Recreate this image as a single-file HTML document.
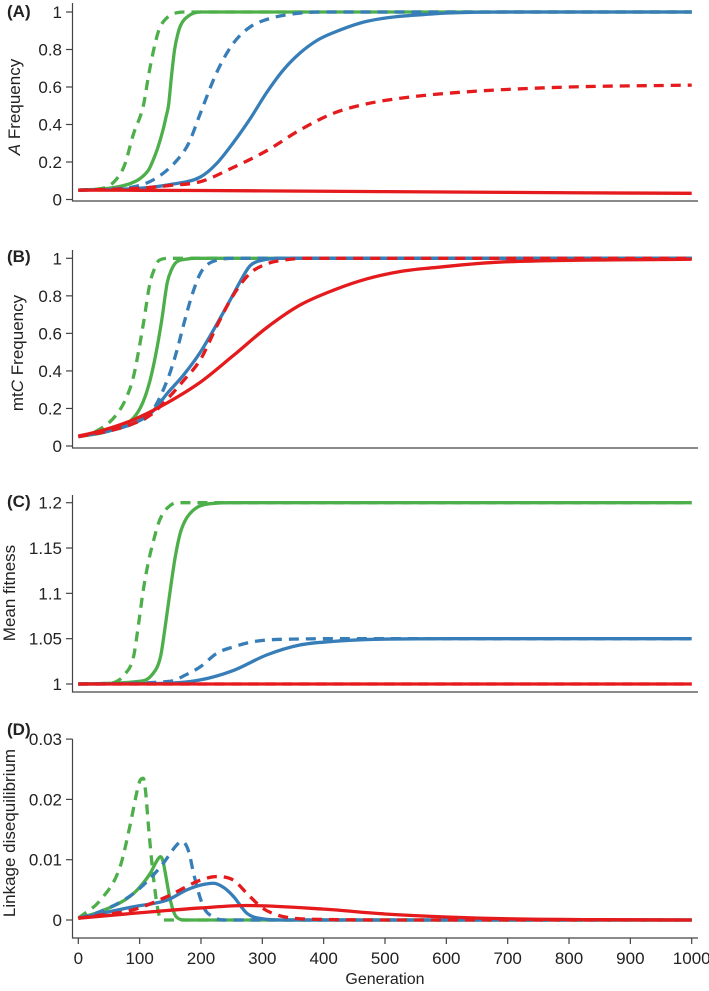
<!DOCTYPE html>
<html><head><meta charset="utf-8"><style>
body{margin:0;background:#fff}
svg{display:block;font-family:"Liberation Sans",sans-serif}
</style></head><body>
<svg id="chart" width="709" height="991" viewBox="0 0 709 991" xmlns="http://www.w3.org/2000/svg"></svg>
<script>
// ---- data (generation, value) ----
const aGreenDashG=[0,40,60,75,90,106,115,123,131,139,155,175,1000];
const aGreenDashV=[.05,.06,.1,.18,.35,.5,.67,.8,.9,.95,.99,1,1];
const aGreenSolidG=[0,50,80,100,115,122,130,138,143,147,152,157,162,167,180,200,1000];
const aGreenSolidV=[.05,.06,.08,.11,.16,.21,.28,.37,.44,.5,.66,.8,.88,.93,.98,1,1];
const aBlueDashG=[0,50,100,130,161,180,199,226,252,280,307,350,400,1000];
const aBlueDashV=[.05,.055,.075,.12,.21,.3,.46,.68,.83,.92,.96,.99,1,1];
const aBlueSolidG=[0,100,150,199,225,252,280,307,334,361,390,416,470,579,700,1000];
const aBlueSolidV=[.05,.06,.08,.12,.19,.3,.43,.57,.69,.78,.85,.89,.95,.99,1,1];
const aRedDashG=[0,100,150,199,252,307,361,416,470,525,579,660,800,1000];
const aRedDashV=[.05,.06,.075,.095,.17,.26,.37,.46,.51,.54,.56,.58,.6,.61];
const aRedSolidG=[0,200,400,600,800,1000];
const aRedSolidV=[.05,.048,.044,.04,.036,.033];

const bGreenDashG=[0,30,63,80,90,98,106,117,125,132,150,1000];
const bGreenDashV=[.05,.08,.17,.27,.37,.5,.65,.87,.95,.99,1,1];
const bGreenSolidG=[0,50,90,105,117,127,136,145,152,160,175,190,1000];
const bGreenSolidV=[.05,.08,.15,.23,.35,.5,.67,.87,.94,.98,.995,1,1];
const bBlueDashG=[0,50,90,117,145,160,172,185,199,212,226,250,1000];
const bBlueDashV=[.05,.08,.12,.17,.35,.5,.65,.8,.92,.97,.99,1,1];
const bBlueSolidG=[0,50,90,120,145,172,199,226,253,268,280,300,330,1000];
const bBlueSolidV=[.05,.08,.12,.18,.28,.38,.5,.65,.81,.9,.96,.99,1,1];
const bRedDashG=[0,50,90,120,145,172,199,226,252,280,307,334,370,1000];
const bRedDashV=[.05,.08,.12,.17,.25,.35,.46,.64,.8,.92,.97,.99,1,1];
const bRedSolidG=[0,36,90,145,199,252,307,361,416,470,525,579,688,1000];
const bRedSolidV=[.053,.08,.14,.23,.34,.48,.63,.75,.83,.89,.93,.95,.98,.995];

const cGreenDashG=[0,50,60,75,90,98,106,115,123,131,139,150,160,1000];
const cGreenDashV=[1,1.001,1.002,1.01,1.03,1.065,1.104,1.137,1.159,1.178,1.189,1.197,1.2,1.2];
const cGreenSolidG=[0,100,120,134,142,150,158,166,174,182,194,206,250,1000];
const cGreenSolidV=[1,1.003,1.01,1.03,1.065,1.104,1.14,1.166,1.18,1.188,1.195,1.198,1.2,1.2];
const cBlueDashG=[0,150,175,199,226,253,280,307,350,416,1000];
const cBlueDashV=[1,1.003,1.01,1.019,1.034,1.041,1.046,1.0485,1.0495,1.05,1.05];
const cBlueSolidG=[0,150,199,253,307,361,416,470,600,1000];
const cBlueSolidV=[1,1.001,1.0045,1.015,1.032,1.043,1.047,1.049,1.05,1.05];
const cRedDashG=[0,1000];
const cRedDashV=[1,1];
const cRedSolidG=[0,1000];
const cRedSolidV=[1,1];

const dGreenDashG=[0,36,68,85,95,101,106,110,114,123,131,139,160,1000];
const dGreenDashV=[.0003,.0033,.0088,.016,.021,.0232,.0235,.021,.016,.0066,.0011,0,0,0];
const dGreenSolidG=[0,36,90,117,128,134,138,142,150,160,175,1000];
const dGreenSolidV=[.0003,.0014,.0044,.0077,.0098,.0105,.0098,.0077,.0033,.0005,0,0];
const dBlueDashG=[0,36,90,134,161,168,174,181,188,204,220,240,1000];
const dBlueDashV=[.0003,.0014,.0044,.0088,.0125,.013,.0127,.011,.0077,.0022,.0005,0,0];
const dBlueSolidG=[0,90,145,177,200,220,237,253,275,300,330,1000];
const dBlueSolidV=[.0003,.0022,.0033,.005,.0058,.0061,.0054,.0039,.0011,.0002,0,0];
const dRedDashG=[0,36,90,145,199,226,253,275,300,325,350,400,500,1000];
const dRedDashV=[.0003,.0008,.0017,.0039,.0066,.0072,.0066,.0044,.002,.0008,.0003,.0001,0,0];
const dRedSolidG=[0,100,200,275,400,500,600,700,850,1000];
const dRedSolidV=[.0003,.0012,.002,.0024,.0018,.001,.0005,.0002,.00005,0];

const aTicks=[0,.2,.4,.6,.8,1];
const aTickLabels=["0","0.2","0.4","0.6","0.8","1"];
const cTicks=[1,1.05,1.1,1.15,1.2];
const cTickLabels=["1","1.05","1.1","1.15","1.2"];
const dTicks=[0,.01,.02,.03];
const dTickLabels=["0","0.01","0.02","0.03"];
const xTicks=[0,100,200,300,400,500,600,700,800,900,1000];

// ---- rendering ----
const NS="http://www.w3.org/2000/svg";
const svg=document.getElementById('chart');
function mk(tag,attrs,parent){const e=document.createElementNS(NS,tag);for(const k in attrs)e.setAttribute(k,attrs[k]);(parent||svg).appendChild(e);return e;}
const xScale=g=>78.3+g*0.6134;
const GREEN="#4daf4a",BLUE="#377eb8",RED="#e41a1c";

function monoPath(px,py){
  const n=px.length;if(n<2)return "";
  const d=[],m=[];
  for(let i=0;i<n-1;i++)d.push((py[i+1]-py[i])/(px[i+1]-px[i]));
  m[0]=d[0];m[n-1]=d[n-2];
  for(let i=1;i<n-1;i++){m[i]=(d[i-1]*d[i]<=0)?0:(d[i-1]+d[i])/2;}
  for(let i=0;i<n-1;i++){if(d[i]===0){m[i]=0;m[i+1]=0;continue;}
    const a=m[i]/d[i],b=m[i+1]/d[i],s=a*a+b*b;
    if(s>9){const t=3/Math.sqrt(s);m[i]=t*a*d[i];m[i+1]=t*b*d[i];}}
  let p="M"+px[0].toFixed(2)+","+py[0].toFixed(2);
  for(let i=0;i<n-1;i++){const h=(px[i+1]-px[i])/3;
    p+=" C"+(px[i]+h).toFixed(2)+","+(py[i]+m[i]*h).toFixed(2)+" "+(px[i+1]-h).toFixed(2)+","+(py[i+1]-m[i+1]*h).toFixed(2)+" "+px[i+1].toFixed(2)+","+py[i+1].toFixed(2);}
  return p;
}

function panel(id,yScale,ticks,tickLabels,axisTop,axisBottom,series,showX){
  const g=mk('g',{});
  
  
  const ax=mk('path',{d:`M72.5,${axisTop}V${axisBottom}H698`,fill:'none',stroke:'#444','stroke-width':1.2},g);
  
  
  ticks.forEach((t,i)=>{const y=yScale(t);
    const tk=mk('line',{x1:66,x2:72.5,y1:y,y2:y,stroke:'#444','stroke-width':1.2},g);
    
    
    const tx=mk('text',{x:62,y:y+6,'text-anchor':'end','font-size':17,fill:'#222'},g);
    tx.textContent=tickLabels[i];
    
    
  });
  if(showX){xTicks.forEach(t=>{const x=xScale(t);
    const tk=mk('line',{x1:x,x2:x,y1:axisBottom,y2:axisBottom+6,stroke:'#444','stroke-width':1.2},g);
    
    
    const tx=mk('text',{x:x,y:964,'text-anchor':'middle','font-size':17,fill:'#222'},g);
    tx.textContent=String(t);
    
    
  });}
  series.forEach(s=>{
    const p=mk('path',{d:monoPath(s.g.map(xScale),s.v.map(yScale)),fill:'none',stroke:s.c,'stroke-width':3.3,'stroke-linecap':'butt'},g);
    if(s.dash)p.setAttribute('stroke-dasharray','10,7');
    
    
  });
}
function S(name,c,dash,g,v){return {name,c,dash,g,v};}

panel('a',v=>199.5-v*187.5,aTicks,aTickLabels,3,201,[
  S('a-green-dashed',GREEN,1,aGreenDashG,aGreenDashV),S('a-green-solid',GREEN,0,aGreenSolidG,aGreenSolidV),
  S('a-blue-dashed',BLUE,1,aBlueDashG,aBlueDashV),S('a-blue-solid',BLUE,0,aBlueSolidG,aBlueSolidV),
  S('a-red-dashed',RED,1,aRedDashG,aRedDashV),S('a-red-solid',RED,0,aRedSolidG,aRedSolidV)],false);
panel('b',v=>446-v*187.7,aTicks,aTickLabels,250,448,[
  S('b-green-dashed',GREEN,1,bGreenDashG,bGreenDashV),S('b-green-solid',GREEN,0,bGreenSolidG,bGreenSolidV),
  S('b-blue-dashed',BLUE,1,bBlueDashG,bBlueDashV),S('b-blue-solid',BLUE,0,bBlueSolidG,bBlueSolidV),
  S('b-red-dashed',RED,1,bRedDashG,bRedDashV),S('b-red-solid',RED,0,bRedSolidG,bRedSolidV)],false);
panel('c',v=>684-(v-1)*906.5,cTicks,cTickLabels,495,692,[
  S('c-green-dashed',GREEN,1,cGreenDashG,cGreenDashV),S('c-green-solid',GREEN,0,cGreenSolidG,cGreenSolidV),
  S('c-blue-dashed',BLUE,1,cBlueDashG,cBlueDashV),S('c-blue-solid',BLUE,0,cBlueSolidG,cBlueSolidV),
  S('c-red-dashed',RED,1,cRedDashG,cRedDashV),S('c-red-solid',RED,0,cRedSolidG,cRedSolidV)],false);
panel('d',v=>920-v*6030,dTicks,dTickLabels,739,938,[
  S('d-green-dashed',GREEN,1,dGreenDashG,dGreenDashV),S('d-green-solid',GREEN,0,dGreenSolidG,dGreenSolidV),
  S('d-blue-dashed',BLUE,1,dBlueDashG,dBlueDashV),S('d-blue-solid',BLUE,0,dBlueSolidG,dBlueSolidV),
  S('d-red-dashed',RED,1,dRedDashG,dRedDashV),S('d-red-solid',RED,0,dRedSolidG,dRedSolidV)],true);
</script>
<div style="position:absolute;left:0;top:0;width:709px;height:991px;pointer-events:none;font-family:'Liberation Sans',sans-serif;color:#222">
  <div style="position:absolute;left:7px;top:2px;font-weight:bold;font-size:17px">(A)</div>
  <div style="position:absolute;left:7px;top:247px;font-weight:bold;font-size:17px">(B)</div>
  <div style="position:absolute;left:7px;top:492px;font-weight:bold;font-size:17px">(C)</div>
  <div style="position:absolute;left:7px;top:720px;font-weight:bold;font-size:17px">(D)</div>
  <div style="position:absolute;left:15px;top:107px;font-size:17px;white-space:nowrap;transform:translate(-50%,-50%) rotate(-90deg)"><i>A</i> Frequency</div>
  <div style="position:absolute;left:18px;top:353px;font-size:17px;white-space:nowrap;transform:translate(-50%,-50%) rotate(-90deg)">mt<i>C</i> Frequency</div>
  <div style="position:absolute;left:10px;top:593px;font-size:17px;white-space:nowrap;transform:translate(-50%,-50%) rotate(-90deg)">Mean fitness</div>
  <div style="position:absolute;left:10px;top:833px;font-size:17px;white-space:nowrap;transform:translate(-50%,-50%) rotate(-90deg)">Linkage disequilibrium</div>
  <div style="position:absolute;left:385px;top:980px;font-size:16px;white-space:nowrap;transform:translate(-50%,-50%)">Generation</div>
</div>
</body></html>
